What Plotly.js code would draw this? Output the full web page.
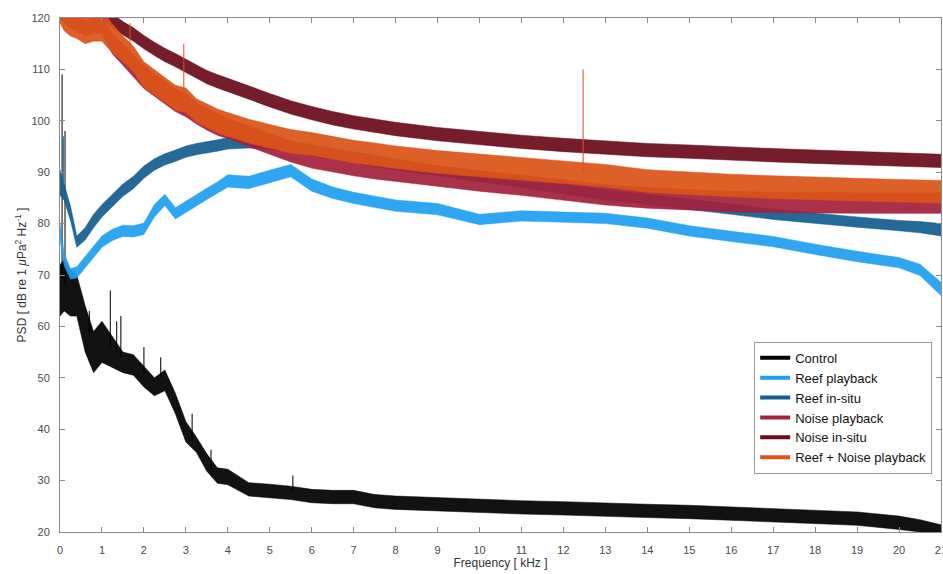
<!DOCTYPE html>
<html>
<head>
<meta charset="utf-8">
<script src="https://cdn.plot.ly/plotly-3.0.1.min.js"></script>
<style>html,body{margin:0;padding:0;background:#fff;}#chart{width:943px;height:574px;}</style>
</head>
<body>
<div id="chart"></div>
<script>
// Frequency grid (kHz)
const freq = [0, 0.1, 0.25, 0.4, 0.6, 0.8, 1.0, 1.25, 1.5, 1.75, 2.0, 2.25, 2.5, 2.75, 3.0, 3.25, 3.5, 3.75, 4.0, 4.5, 5.0, 5.5, 6.0, 6.5, 7.0, 7.5, 8.0, 9.0, 10, 11, 12, 13, 14, 15, 16, 17, 18, 19, 20, 20.5, 21];

// Lower / upper edges of each noisy PSD trace (dB re 1 uPa^2/Hz)
const controlLo = [62, 63, 62, 62, 55, 51, 53, 52, 51, 50.5, 48.2, 46.5, 47.5, 43, 37.5, 35.5, 31.8, 29.5, 29.2, 27, 26.7, 26.3, 25.7, 25.5, 25.5, 24.7, 24.4, 24.1, 23.7, 23.5, 23.3, 23, 22.8, 22.6, 22.3, 22, 21.7, 21.3, 20.5, 20, 20];
const controlHi = [72, 73, 71, 70, 64, 59, 61, 58, 55, 54.5, 52.2, 50, 51.5, 47, 41.5, 38.5, 35.2, 32.5, 32.2, 29.6, 29.3, 28.9, 28.3, 28.1, 28.1, 27.3, 27, 26.7, 26.3, 26.1, 25.9, 25.6, 25.4, 25.2, 24.9, 24.6, 24.3, 23.9, 23.1, 22.4, 21.4];

const reefPbLo = [77, 71.8, 69.2, 69.4, 71.4, 73.4, 75.4, 76.7, 77.5, 77.4, 77.9, 81.3, 83.5, 80.9, 82.1, 83.4, 84.7, 85.9, 87.1, 86.8, 88, 89.1, 86.3, 84.9, 83.9, 83.2, 82.4, 81.7, 79.8, 80.5, 80.3, 80, 79.1, 77.6, 76.5, 75.5, 74, 72.6, 71.4, 69.9, 66];
const reefPbHi = [80, 74.2, 71.2, 71.6, 73.6, 75.6, 77.6, 78.9, 79.7, 79.6, 80.1, 83.7, 85.7, 83.1, 84.3, 85.6, 86.9, 88.1, 89.5, 89.2, 90.4, 91.5, 88.7, 87.1, 86.1, 85.4, 84.6, 83.9, 81.8, 82.5, 82.3, 82, 81.1, 79.6, 78.5, 77.5, 76, 74.6, 73.4, 72.1, 68.6];

const reefInLo = [85.5, 84.5, 80.6, 75.4, 76.8, 79.2, 81.3, 83.3, 85.3, 86.8, 88.8, 90.4, 91.4, 92.1, 92.9, 93.4, 93.7, 94.1, 94.5, 94.7, 94.4, 93.9, 93.2, 92.5, 91.8, 91.1, 90.4, 89.3, 88.2, 87, 85.8, 84.6, 83.7, 82.8, 81.8, 80.8, 80, 79.3, 78.6, 78.2, 77.6];
const reefInHi = [90.5, 87.5, 83.4, 77.6, 79.2, 81.8, 83.7, 85.7, 87.7, 89.2, 91.2, 92.6, 93.6, 94.3, 95.1, 95.6, 95.9, 96.3, 96.7, 96.9, 96.6, 96.1, 95.4, 94.7, 94, 93.3, 92.6, 91.3, 90.2, 89, 87.8, 86.6, 85.7, 84.8, 83.8, 82.8, 82, 81.3, 80.6, 80.4, 80];

const noisePbLo = [120, 119, 118, 117.5, 116.5, 117, 117, 113, 110.8, 108.5, 106.3, 104.8, 103.3, 101.8, 100.8, 99.4, 98.2, 97.2, 96.5, 95, 93.5, 92, 90.8, 90, 89.3, 88.7, 88.2, 87.2, 86.3, 85.5, 84.6, 83.6, 83, 82.6, 82.3, 82.1, 82, 82, 82, 82, 82];
const noisePbHi = [123, 122, 121, 120.5, 119.5, 120, 120, 117, 115, 113, 110.7, 109.2, 107.7, 106.2, 105.2, 103.6, 102.4, 101.4, 100.5, 99, 97.5, 96, 94.8, 94, 93.3, 92.7, 92.2, 91.2, 90.3, 89.5, 88.6, 87.6, 87, 86.6, 86.3, 86.1, 86, 86, 86, 86, 86];

const noiseInLo = [124.7, 124.7, 123.7, 122.7, 121.7, 120.7, 119.7, 118.2, 116.7, 115.5, 114, 112.7, 111.5, 110.5, 109.4, 108.2, 107.2, 106.4, 105.7, 104.2, 102.7, 101.3, 100.2, 99.2, 98.4, 97.7, 97.1, 96.1, 95.3, 94.6, 94, 93.5, 93, 92.7, 92.3, 92, 91.7, 91.4, 91.1, 91, 90.9];
const noiseInHi = [127.3, 127.3, 126.3, 125.3, 124.3, 123.3, 122.3, 120.8, 119.3, 118.1, 116.6, 115.3, 114.1, 113.1, 112, 110.8, 109.8, 109, 108.3, 106.8, 105.3, 103.9, 102.8, 101.8, 101, 100.3, 99.7, 98.7, 97.9, 97.2, 96.6, 96.1, 95.6, 95.3, 94.9, 94.6, 94.3, 94, 93.7, 93.6, 93.5];

const mixLo = [119, 117.5, 116.5, 116, 115, 115.5, 115.5, 113.2, 111.5, 109.5, 106.5, 105, 103.6, 102.1, 101.6, 99.7, 98.7, 97.7, 97, 95.7, 94.7, 93.7, 93.3, 92.6, 91.8, 91.3, 90.7, 89.8, 89.1, 88.4, 87.7, 87.1, 86.1, 85.6, 85.2, 84.9, 84.6, 84.4, 84.2, 84.1, 84];
const mixHi = [124, 123, 122, 121, 120, 121.5, 121.5, 118.8, 116.5, 114.5, 111.5, 110, 108.4, 106.9, 106.4, 104.3, 103.3, 102.3, 101.6, 100.3, 99.3, 98.3, 97.7, 97, 96.2, 95.7, 95.1, 94.2, 93.5, 92.8, 92.1, 91.5, 90.5, 90, 89.6, 89.3, 89, 88.8, 88.6, 88.5, 88.4];

// Narrow spectral spikes: [frequency kHz, base dB, peak dB]
const controlSpikes = [[0.05, 70, 109], [0.12, 68, 98], [0.7, 58, 63], [1.2, 56, 67], [1.35, 55, 61], [1.45, 54, 62], [2.0, 51, 56], [2.4, 50, 54], [3.15, 38, 43], [3.6, 32, 36], [5.55, 28, 31]];
const reefInSpikes = [[0.08, 88, 97]];
const mixSpikes = [[1.67, 114, 119], [2.95, 104, 115], [12.47, 90, 110]];

const names = ["Control", "Reef playback", "Reef in-situ", "Noise playback", "Noise in-situ", "Reef + Noise playback"];
const colors = ["#000000", "#1f9ff0", "#135e8f", "#a3213b", "#6a0c1b", "#dc5419"];
const los = [controlLo, reefPbLo, reefInLo, noisePbLo, noiseInLo, mixLo];
const his = [controlHi, reefPbHi, reefInHi, noisePbHi, noiseInHi, mixHi];
const spikes = [controlSpikes, [], reefInSpikes, [], [], mixSpikes];

function rgba(hex, a) {
  const r = parseInt(hex.slice(1, 3), 16), g = parseInt(hex.slice(3, 5), 16), b = parseInt(hex.slice(5, 7), 16);
  return `rgba(${r},${g},${b},${a})`;
}

const traces = [];
for (let i = 0; i < names.length; i++) {
  const c = colors[i];
  traces.push({x: freq, y: los[i], mode: "lines", line: {color: rgba(c, 0.5), width: 1}, showlegend: false, hoverinfo: "skip"});
  traces.push({x: freq, y: his[i], mode: "lines", fill: "tonexty", fillcolor: rgba(c, 0.93), line: {color: rgba(c, 0.5), width: 1}, showlegend: false, hoverinfo: "skip"});
  if (spikes[i].length) {
    const sx = [], sy = [];
    spikes[i].forEach(s => { sx.push(s[0], s[0], null); sy.push(s[1], s[2], null); });
    traces.push({x: sx, y: sy, mode: "lines", line: {color: rgba(c, 0.85), width: 1.2}, showlegend: false, hoverinfo: "skip"});
  }
}
for (let i = 0; i < names.length; i++) {
  traces.push({x: [null], y: [null], mode: "lines", name: names[i], line: {color: colors[i], width: 4}});
}

const axisStyle = {
  showline: true, linecolor: "#8a8a8a", linewidth: 1, mirror: "ticks",
  ticks: "inside", ticklen: 5, tickcolor: "#8a8a8a", tickwidth: 1,
  showgrid: false, zeroline: false, ticklabeloverflow: "allow",
  tickfont: {family: "Liberation Sans, Arial, sans-serif", size: 11, color: "#4a4a4a"}
};

const layout = {
  width: 943, height: 574,
  margin: {l: 60, r: 2, t: 18, b: 42},
  paper_bgcolor: "#ffffff", plot_bgcolor: "#ffffff",
  font: {family: "Liberation Sans, Arial, sans-serif", color: "#333"},
  xaxis: Object.assign({}, axisStyle, {range: [0, 21.0005], tick0: 0, dtick: 1, ticklabelstandoff: 8,
    title: {text: "Frequency [ kHz ]", font: {size: 12, color: "#333"}, standoff: 3}}),
  yaxis: Object.assign({}, axisStyle, {range: [20, 120], tick0: 20, dtick: 10, ticklabelstandoff: 7,
    title: {text: "PSD [ dB re 1 <i>μ</i>Pa<sup>2</sup> Hz<sup>-1</sup> ]", font: {size: 12, color: "#333"}, standoff: 2}}),
  showlegend: true,
  legend: {x: 0.99, xanchor: "right", y: 0.37, yanchor: "top", traceorder: "normal",
    bgcolor: "#ffffff", bordercolor: "#9a9a9a", borderwidth: 1,
    font: {family: "Liberation Sans, Arial, sans-serif", size: 13, color: "#111"},
    tracegroupgap: 0, itemwidth: 30}
};

Plotly.newPlot("chart", traces, layout, {staticPlot: true, displayModeBar: false});
</script>
</body>
</html>
